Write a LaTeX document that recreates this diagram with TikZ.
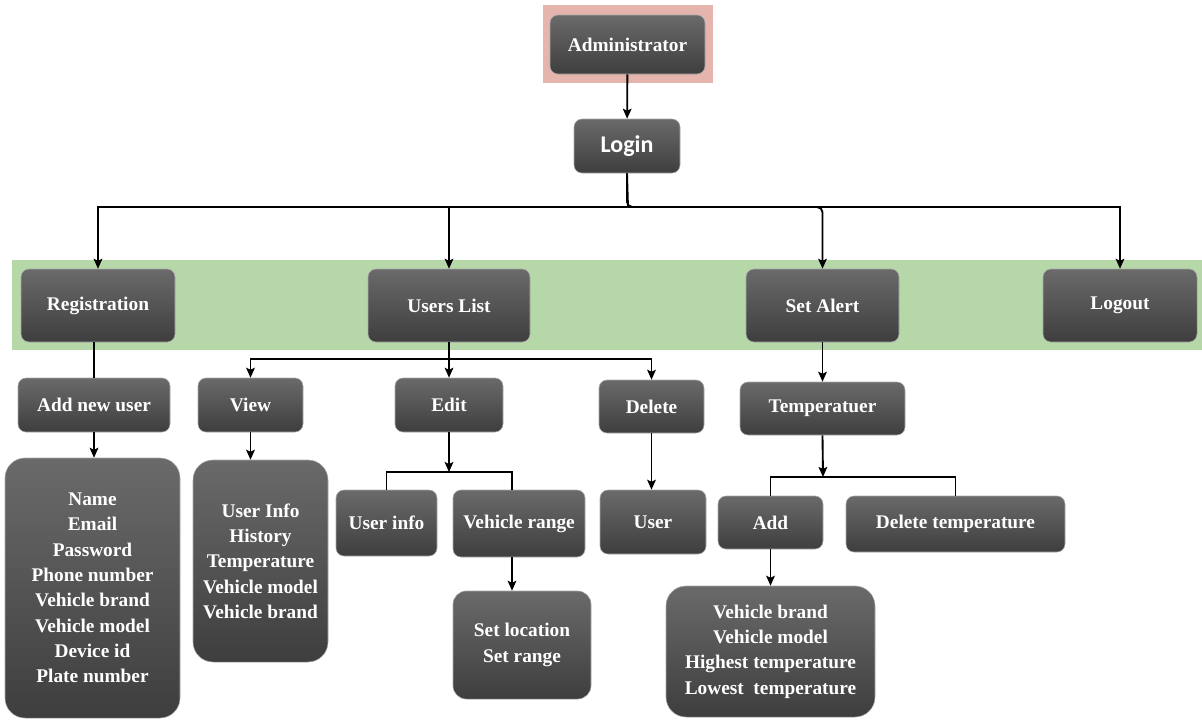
\documentclass[tikz,border=0pt]{standalone}
\usepackage{fontspec}
\setmainfont{Liberation Serif}
\newfontfamily\loginfont{Carlito}
\usetikzlibrary{arrows.meta,calc}

\definecolor{boxtop}{RGB}{106,106,106}
\definecolor{boxbot}{RGB}{62,62,62}
\definecolor{boxedge}{RGB}{170,170,170}
\definecolor{bandgreen}{RGB}{182,215,168}
\definecolor{adminpink}{RGB}{229,180,172}

\begin{document}
\begin{tikzpicture}[x=0.75pt,y=-0.75pt,
  % span={left}{top}{right}{bottom}: place a node over that rectangle
  span/.style n args={4}{at={({(#1+#3)/2},{(#2+#4)/2})},
    minimum width={(#3-#1)*0.75pt}, minimum height={(#4-#2)*0.75pt}},
  box/.style={rounded corners=6pt, top color=boxtop, bottom color=boxbot,
    draw=boxedge, line width=0.4pt, inner sep=0pt, text=white,
    font=\fontsize{14.5}{19}\selectfont\bfseries, align=center},
  tallbox/.style={box, rounded corners=15pt},
  midbox/.style={box, rounded corners=10pt},
  panel/.style={inner sep=0pt, outer sep=0pt, draw=none},
  link/.style={line width=1.4pt, black},
  arr/.style={link, -{Stealth[length=7.5pt,width=6.5pt,inset=1.5pt]}},
]
\useasboundingbox (0,0) rectangle (1202,719);

% backgrounds
\node[panel, fill=adminpink, span={543}{5}{713}{83}] (adminbg) {};
\node[panel, fill=bandgreen, span={12}{260}{1202}{350}] (band) {};

% top of the tree
\node[box, span={550}{15}{705}{74}] (admin) {Administrator};
\node[box, font=\loginfont\fontsize{18}{22}\selectfont\bfseries,
      span={574}{119}{680}{173}] (login) {Login};

% main menu
\node[box, span={21}{269}{175}{342}] (reg) {Registration};
\node[box, span={368}{269}{530}{342}] (users) {Users List};
\node[box, span={746}{269}{899}{342}] (alert) {Set Alert};
\node[box, span={1043}{269}{1197}{342}] (logout) {Logout};

% second level
\node[box, span={18}{378}{170}{432}] (addnew) {Add new user};
\node[box, span={198}{378}{303}{432}] (view) {View};
\node[box, span={395}{378}{503}{432}] (edit) {Edit};
\node[box, span={599}{380}{704}{433}] (delete) {Delete};
\node[box, span={740}{382}{905}{435}] (temp) {Temperatuer};

% third level
\node[tallbox, span={5}{458}{180}{718}] (regdata)
  {Name\\Email\\Password\\Phone number\\Vehicle brand\\Vehicle model\\Device id\\Plate number};
\node[tallbox, span={193}{460}{328}{662}] (viewdata)
  {User Info\\History\\Temperature\\Vehicle model\\Vehicle brand};
\node[box, span={336}{490}{437}{556}] (userinfo) {User info};
\node[box, span={453}{490}{585}{557}] (vrange) {Vehicle range};
\node[box, span={600}{490}{706}{554}] (user) {User};
\node[box, span={718}{496}{823}{549}] (add) {Add};
\node[box, span={846}{496}{1065}{552}] (deltemp) {Delete temperature};

% fourth level
\node[midbox, span={453}{591}{591}{699}] (setloc) {Set location\\Set range};
\node[tallbox, span={666}{586}{875}{717}] (adddata)
  {Vehicle brand\\Vehicle model\\Highest temperature\\Lowest\ \ temperature};

% connectors
\draw[arr] (admin) -- (login);

\coordinate (hub) at (628,207);
\draw[link] (login.south) -- (hub);
\draw[arr] (hub) -| (reg.north);
\draw[arr] (hub) -| (users.north);
\draw[arr, rounded corners=4pt] (login.south) |- (alert.north |- hub) -- (alert.north);
\draw[arr] (hub) -| (logout.north);

\draw[link] (addnew.north |- reg.south) -- (addnew.north);
\draw[arr] (addnew.south) -- (addnew.south |- regdata.north);

\coordinate (ulhub) at (449,359);
\draw[arr] (users.south) -- (edit.north);
\draw[arr] (ulhub) -| (view.north);
\draw[arr] (ulhub) -| (delete.north);

\draw[arr] (view.south) -- (view.south |- viewdata.north);

\coordinate (edhub) at (449,472);
\draw[arr] (edit.south) -- (edhub);
\draw[link] (userinfo.north) |- (edhub) -| ($(vrange.north)+(-7,0)$);

\coordinate (vrx) at ($(vrange.south)+(-7,0)$);
\draw[arr] (vrx) -- (vrx |- setloc.north);

\draw[arr] (delete.south) -- (delete.south |- user.north);

\draw[arr] (alert.south) -- (temp.north);
\coordinate (thub) at (823,477);
\draw[arr] (temp.south) -- (thub);
\draw[link] (add.north) |- (thub) -| (deltemp.north);

\draw[arr] (add.south) -- (add.south |- adddata.north);
\end{tikzpicture}
\end{document}
